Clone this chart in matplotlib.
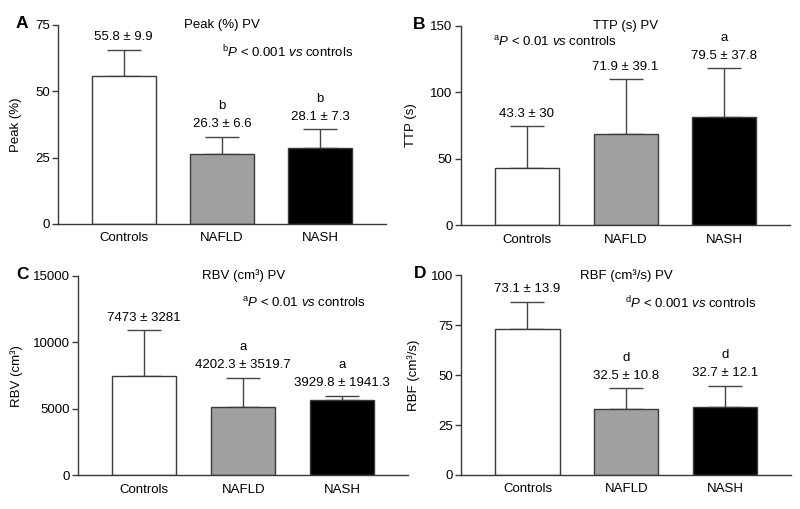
import numpy as np
import matplotlib
matplotlib.use('Agg')
import matplotlib.pyplot as plt

plt.rcParams['font.family'] = ['Liberation Sans', 'DejaVu Sans']
plt.rcParams['mathtext.fontset'] = 'custom'
plt.rcParams['mathtext.rm'] = 'Liberation Sans'
plt.rcParams['mathtext.it'] = 'Liberation Sans:italic'

groups = ['Controls', 'NAFLD', 'NASH']
bar_colors = ['white', '#a0a0a0', 'black']

# bar heights and upper error lengths as drawn
peak = [55.8, 26.2, 28.8]
peak_err = [9.9, 6.7, 7.0]
ttp = [43.3, 68.4, 81.2]
ttp_err = [31.1, 41.5, 37.0]
rbv = [7500, 5150, 5700]
rbv_err = [3450, 2200, 300]
rbf = [73.1, 32.9, 34.0]
rbf_err = [13.7, 10.5, 10.7]

# printed labels
peak_txt = ['55.8 ± 9.9', '26.3 ± 6.6', '28.1 ± 7.3']
ttp_txt = ['43.3 ± 30', '71.9 ± 39.1', '79.5 ± 37.8']
rbv_txt = ['7473 ± 3281', '4202.3 ± 3519.7', '3929.8 ± 1941.3']
rbf_txt = ['73.1 ± 13.9', '32.5 ± 10.8', '32.7 ± 12.1']
peak_sig = ['', 'b', 'b']
ttp_sig = ['', '', 'a']
rbv_sig = ['', 'a', 'a']
rbf_sig = ['', 'd', 'd']

panels = [
    dict(letter='A', title='Peak (%) PV', ylabel='Peak (%)', vals=peak, err=peak_err,
         txt=peak_txt, sig=peak_sig, ticks=[0, 25, 50, 75],
         ptxt=r'$^{\mathrm{b}}\mathit{P}$ < 0.001 $\mathit{vs}$ controls', pxy=(1.67, 0.864),
         rect=[0.0725, 0.56, 0.41, 0.391], lab_x=-0.109),
    dict(letter='B', title='TTP (s) PV', ylabel='TTP (s)', vals=ttp, err=ttp_err,
         txt=ttp_txt, sig=ttp_sig, ticks=[0, 50, 100, 150],
         ptxt=r'$^{\mathrm{a}}\mathit{P}$ < 0.01 $\mathit{vs}$ controls', pxy=(0.28, 0.918),
         rect=[0.576, 0.557, 0.412, 0.3925], lab_x=-0.133),
    dict(letter='C', title='RBV (cm³) PV', ylabel='RBV (cm³)', vals=rbv, err=rbv_err,
         txt=rbv_txt, sig=rbv_sig, ticks=[0, 5000, 10000, 15000],
         ptxt=r'$^{\mathrm{a}}\mathit{P}$ < 0.01 $\mathit{vs}$ controls', pxy=(1.61, 0.863),
         rect=[0.0975, 0.066, 0.413, 0.392], lab_x=-0.167),
    dict(letter='D', title='RBF (cm³/s) PV', ylabel='RBF (cm³/s)', vals=rbf, err=rbf_err,
         txt=rbf_txt, sig=rbf_sig, ticks=[0, 25, 50, 75, 100],
         ptxt=r'$^{\mathrm{d}}\mathit{P}$ < 0.001 $\mathit{vs}$ controls', pxy=(1.65, 0.864),
         rect=[0.5766, 0.067, 0.4124, 0.392], lab_x=-0.125),
]

fig = plt.figure(figsize=(8, 5.09), dpi=100)
x = np.arange(len(groups))
axcol = '#3a3a3a'

for p in panels:
    ax = fig.add_axes(p['rect'])
    ax.bar(x, p['vals'], width=0.65, color=bar_colors, edgecolor=axcol, linewidth=1, zorder=2)
    ax.errorbar(x, p['vals'], yerr=[np.zeros(3), p['err']], fmt='none', ecolor='#444444',
                elinewidth=1, capsize=12, capthick=1, zorder=1)
    top = np.array(p['vals']) + np.array(p['err'])
    for i in range(3):
        ax.annotate(p['txt'][i], (x[i], top[i]), xytext=(0, 4.5), textcoords='offset points',
                    ha='center', va='bottom', fontsize=9.5)
        if p['sig'][i]:
            ax.annotate(p['sig'][i], (x[i], top[i]), xytext=(0, 17.5), textcoords='offset points',
                        ha='center', va='bottom', fontsize=9.5)
    ax.set_xlim(-0.67, 2.67)
    ax.set_ylim(p['ticks'][0], p['ticks'][-1])
    ax.set_yticks(p['ticks'])
    ax.set_xticks(x)
    ax.set_xticklabels(groups)
    ax.tick_params(axis='x', length=0, pad=6, labelsize=9.5)
    ax.tick_params(axis='y', length=4, width=1, pad=2, labelsize=9.5, color=axcol)
    for s in ['top', 'right']:
        ax.spines[s].set_visible(False)
    for s in ['left', 'bottom']:
        ax.spines[s].set_color(axcol)
        ax.spines[s].set_linewidth(1)
    ax.set_ylabel(p['ylabel'], fontsize=9.5)
    ax.yaxis.set_label_coords(p['lab_x'], 0.5)
    ax.text(1, 1.0, p['title'], transform=ax.get_xaxis_transform(), ha='center', va='center',
            fontsize=9.5)
    ax.text(p['pxy'][0], p['pxy'][1], p['ptxt'], transform=ax.get_xaxis_transform(),
            ha='center', va='center', fontsize=9.5)
    bb = p['rect']
    fig.text(bb[0] - (0.0725 - 0.0275 if p['letter'] in 'AC' else 0.576 - 0.524)
             - (0.025 if p['letter'] == 'C' else 0), bb[1] + bb[3] + 0.003, p['letter'],
             fontsize=12.5, fontweight='bold', ha='center', va='center')

fig.savefig('out.png', dpi=100)
